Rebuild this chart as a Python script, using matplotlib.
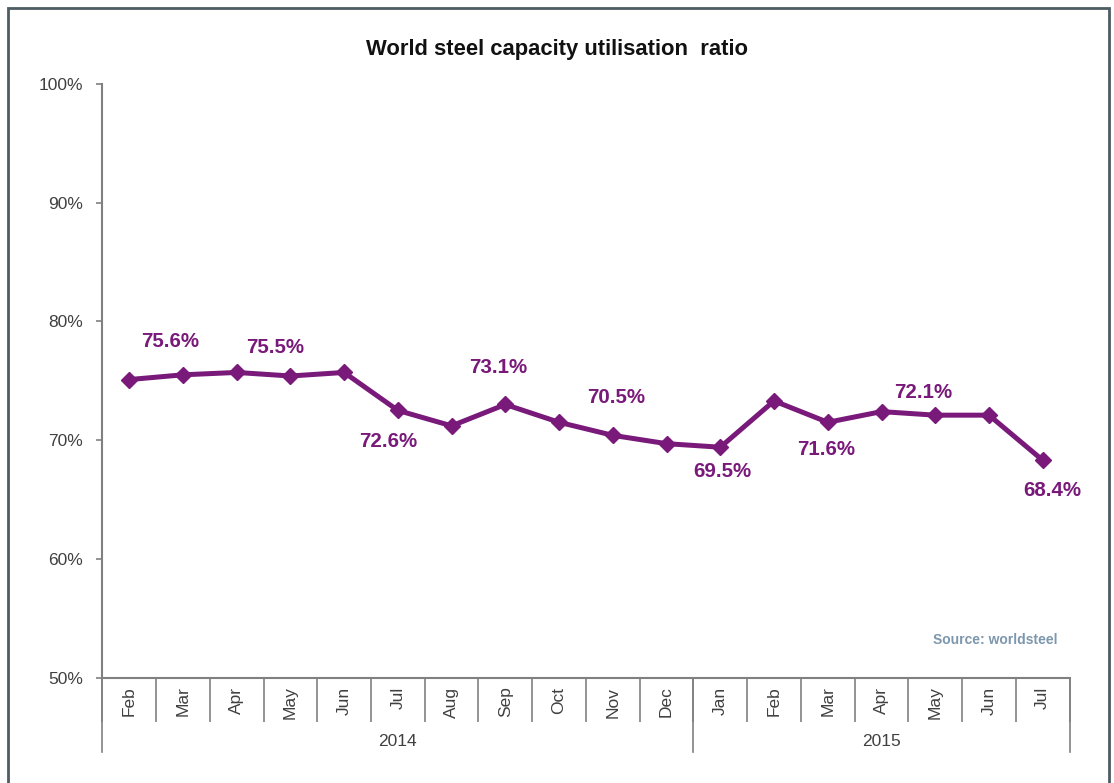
import matplotlib
matplotlib.use("Agg")
import matplotlib.pyplot as plt
from matplotlib.lines import Line2D
from matplotlib.patches import Rectangle
from matplotlib.transforms import blended_transform_factory

months = ["Feb", "Mar", "Apr", "May", "Jun", "Jul", "Aug", "Sep", "Oct", "Nov", "Dec",
          "Jan", "Feb", "Mar", "Apr", "May", "Jun", "Jul"]
years = ["2014", "2015"]
year_counts = [11, 7]
ratio = [75.1, 75.5, 75.7, 75.4, 75.7, 72.5, 71.2, 73.0, 71.5, 70.4, 69.7,
         69.4, 73.3, 71.5, 72.4, 72.1, 72.1, 68.3]
label_idx = [1, 3, 5, 7, 9, 11, 13, 15, 17]
label_txt = ["75.6%", "75.5%", "72.6%", "73.1%", "70.5%", "69.5%", "71.6%", "72.1%", "68.4%"]
y_ticks = [50, 60, 70, 80, 90, 100]

# label offsets in pixels (layout only)
label_off = [(-13, 33), (-15, 29), (-10, -31), (-7, 37), (3, 38), (2, -24), (-2, -27), (-12, 23), (10, -30)]

W, H = 1114, 783
fig = plt.figure(figsize=(W / 100, H / 100), dpi=100)
fig.patch.set_facecolor("white")
plt.rcParams["font.family"] = ["Liberation Sans", "DejaVu Sans"]

# outer frame
fig.add_artist(Rectangle((8 / W, -0.05), (1109 - 8) / W, (H - 8) / H + 0.05,
                         transform=fig.transFigure, fill=False,
                         edgecolor="#4d5d63", linewidth=2.0))

left, right, top, bottom = 102.3, 1069.6, 84.0, 677.5
ax = fig.add_axes([left / W, 1 - bottom / H, (right - left) / W, (bottom - top) / H])
ax.set_facecolor("white")

purple = "#79197a"
x = list(range(len(months)))
ax.plot(x, ratio, color=purple, lw=3.6, marker="D", markersize=8,
        markerfacecolor=purple, markeredgecolor=purple, solid_joinstyle="round",
        clip_on=False, zorder=3)

for i, t, (dx, dy) in zip(label_idx, label_txt, label_off):
    ax.annotate(t, xy=(i, ratio[i]), xytext=(dx, dy), textcoords="offset pixels",
                ha="center", va="center", fontsize=14.8, fontweight="bold", color=purple)

ax.set_xlim(-0.5, len(months) - 0.5)
ax.set_ylim(50, 100)
ax.set_yticks(y_ticks)
ax.set_yticklabels([f"{v}%" for v in y_ticks])

for s in ["top", "right"]:
    ax.spines[s].set_visible(False)
for s in ["left", "bottom"]:
    ax.spines[s].set_color("#808080")
    ax.spines[s].set_linewidth(1.5)

ax.tick_params(axis="y", direction="out", length=4, width=1.2, color="#808080",
               pad=10, labelsize=12.5, labelcolor="#404040")

# month labels on minor ticks, separators on major ticks
bounds = [i - 0.5 for i in range(len(months) + 1)]
ax.set_xticks(bounds)
ax.set_xticklabels([])
ax.tick_params(axis="x", which="major", direction="out", length=31.7, width=1.2, color="#808080")
ax.set_xticks(x, minor=True)
ax.set_xticklabels(months, minor=True, rotation=90)
ax.tick_params(axis="x", which="minor", length=0, pad=6.5, labelsize=12.5, labelcolor="#404040")

# year groups
trans = blended_transform_factory(ax.transData, ax.transAxes)
ax_h = bottom - top
start = 0
seps = [-0.5]
for yr, n in zip(years, year_counts):
    mid = start + (n - 1) / 2
    ax.text(mid, -63.5 / ax_h, yr, transform=trans, ha="center", va="center",
            fontsize=12.5, color="#404040")
    start += n
    seps.append(start - 0.5)
for s in seps:
    ax.add_line(Line2D([s, s], [0, -74.5 / ax_h], transform=trans, color="#808080",
                       lw=1.2, clip_on=False))

fig.text(557 / W, 1 - 50 / H, "World steel capacity utilisation  ratio", ha="center", va="center",
         fontsize=15.8, fontweight="bold", color="#111111")
fig.text(995 / W, 1 - 640 / H, "Source: worldsteel", ha="center", va="center",
         fontsize=10, fontweight="bold", color="#7d97ad")

fig.savefig("out.png", dpi=100, facecolor="white")
